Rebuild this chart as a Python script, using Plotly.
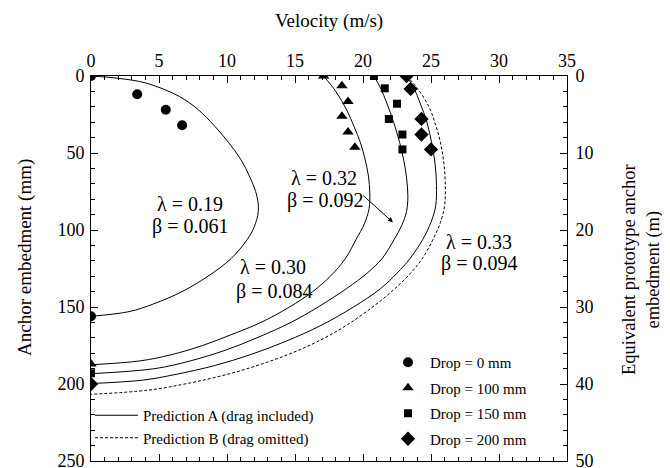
import plotly.graph_objects as go

# ---- data ----
drop0_v = [0, 3.4, 5.5, 6.7, 0]
drop0_z = [0, 11.8, 21.9, 32.0, 156]
drop100_v = [17.1, 18.45, 18.9, 18.45, 18.9, 19.4, 0]
drop100_z = [0, 6.4, 16.5, 26.2, 36.3, 46.2, 187]
drop150_v = [20.8, 21.6, 22.5, 21.9, 22.9, 22.9, 0]
drop150_z = [0, 8.0, 18.0, 27.9, 38.0, 47.7, 193]
drop200_v = [23.2, 23.5, 24.3, 24.3, 25.0, 0]
drop200_z = [0, 8.4, 27.9, 38.0, 47.7, 200]

# prediction curves
c1_z = [0, 1.5, 4.7, 13.3, 22, 32.6, 43, 54, 66, 78, 88, 98, 106, 118.6, 130, 140, 148, 153, 156]
c1_v = [0, 2.0, 4.1, 6.5, 7.9, 9.1, 10.1, 11.0, 11.7, 12.2, 12.3, 12.0, 11.5, 10.3, 8.6, 6.7, 4.6, 2.8, 0]
c2_z = [0, 10, 22, 33, 43, 54, 65, 76, 86, 96, 106, 118.6, 130, 140, 150, 160, 168, 175, 181, 185, 187.5]
c2_v = [17.1, 18.0, 18.8, 19.35, 19.8, 20.15, 20.4, 20.5, 20.45, 20.1, 19.5, 18.7, 17.6, 16.3, 14.6, 12.5, 10.3, 8.2, 5.9, 3.6, 0]
c3_z = [0, 8, 17.6, 30, 43.4, 55, 66, 78, 88, 97, 106, 118.6, 128, 138, 150, 160, 170, 178, 185, 190, 193.3]
c3_v = [20.8, 21.3, 21.75, 22.25, 22.7, 23.0, 23.2, 23.3, 23.2, 22.85, 22.3, 21.4, 20.3, 18.8, 16.7, 14.7, 12.2, 9.9, 7.3, 4.7, 0]
c4_z = [0, 8, 17.6, 30, 43.4, 57, 71, 84, 95, 106, 118.6, 128, 138, 150, 162, 172, 181, 188, 194, 197.5, 199.7]
c4_v = [23.2, 23.75, 24.2, 24.7, 25.05, 25.3, 25.4, 25.35, 25.0, 24.4, 23.45, 22.5, 21.3, 19.3, 16.9, 14.4, 11.7, 9.1, 6.1, 3.8, 0]
c5_z = [0, 8, 20, 32, 43.4, 57, 71, 84, 95, 106, 118, 128, 140, 152, 164, 176, 186, 194, 200, 204, 206.7]
c5_v = [23.2, 24.0, 24.85, 25.35, 25.7, 25.95, 26.05, 26.0, 25.7, 25.15, 24.4, 23.5, 22.1, 20.4, 18.4, 15.8, 12.9, 9.9, 6.9, 4.2, 0]

x_ticks = [0, 5, 10, 15, 20, 25, 30, 35]
y_ticks = [0, 50, 100, 150, 200, 250]
y2_ticks = [0, 10, 20, 30, 40, 50]

FONT = "Liberation Serif"
OFF = 8  # page body margin in the browser
W, H = 670 - OFF, 468 - OFF
L, R, T, B = 91 - OFF, 103, 76 - OFF, 7
PW, PH = W - L - R, H - T - B


def px(X):  # screenshot pixel -> paper x
    return (X - OFF - L) / PW


def py(Y):  # screenshot pixel -> paper y
    return (H - B - (Y - OFF)) / PH


fig = go.Figure()

def curve(v, z, dash, name, show):
    fig.add_trace(go.Scatter(x=v, y=z, mode="lines", name=name,
                             line=dict(color="black", width=1, dash=dash, shape="spline", smoothing=1.0),
                             showlegend=show, legend="legend", legendgroup=name))

curve(c1_v, c1_z, "solid", "Prediction A (drag included)", True)
curve(c2_v, c2_z, "solid", "Prediction A (drag included)", False)
curve(c3_v, c3_z, "solid", "Prediction A (drag included)", False)
curve(c4_v, c4_z, "solid", "Prediction A (drag included)", False)
curve(c5_v, c5_z, "3px,2px", "Prediction B (drag omitted)", True)

def pts(v, z, sym, size, name):
    fig.add_trace(go.Scatter(x=v, y=z, mode="markers", name=name,
                             marker=dict(symbol=sym, size=size, color="black"),
                             legend="legend2", legendgroup=name))

pts(drop0_v, drop0_z, "circle", 10, "Drop = 0 mm")
pts(drop100_v, drop100_z, "triangle-up", 10, "Drop = 100 mm")
pts(drop150_v, drop150_z, "square", 8, "Drop = 150 mm")
pts(drop200_v, drop200_z, "diamond", 11, "Drop = 200 mm")

fig.add_trace(go.Scatter(x=[None], y=[None], yaxis="y2", showlegend=False, hoverinfo="skip"))

ann = []
def lab(x, y, t):
    ann.append(dict(x=x, y=y, xref="x", yref="y", text=t, showarrow=False,
                    xanchor="center", yanchor="middle",
                    font=dict(family=FONT, size=20, color="black")))
lab(7.3, 83, "λ = 0.19"); lab(7.3, 98, "β = 0.061")
lab(17.1, 66, "λ = 0.32"); lab(17.2, 81, "β = 0.092")
lab(13.4, 124, "λ = 0.30"); lab(13.45, 140, "β = 0.084")
lab(28.5, 107.5, "λ = 0.33"); lab(28.5, 122, "β = 0.094")
ann.append(dict(x=22.2, y=95, ax=19.9, ay=76.7, xref="x", yref="y", axref="x", ayref="y",
                text="", showarrow=True, arrowhead=2, arrowsize=1, arrowwidth=1, arrowcolor="black"))
ann.append(dict(x=0.5, y=py(21), xref="paper", yref="paper", text="Velocity (m/s)",
                showarrow=False, xanchor="center", yanchor="middle",
                font=dict(family=FONT, size=19, color="black")))
ann.append(dict(x=px(25), y=py(258), xref="paper", yref="paper",
                text="Anchor embedment (mm)", showarrow=False, textangle=-90,
                xanchor="center", yanchor="middle", font=dict(family=FONT, size=19, color="black")))
ann.append(dict(x=px(641), y=py(270), xref="paper", yref="paper",
                text="Equivalent prototype anchor<br>embedment (m)",
                showarrow=False, textangle=-90, xanchor="center", yanchor="middle",
                font=dict(family=FONT, size=18.5, color="black")))

axis_common = dict(showgrid=False, zeroline=False, showline=True, linecolor="black", linewidth=1,
                   ticks="inside", ticklen=7, tickcolor="black", tickwidth=1,
                   tickfont=dict(family=FONT, size=18, color="black"), automargin=False,
                   ticklabeloverflow="allow")

fig.update_layout(
    width=W, height=H,
    margin=dict(l=L, r=R, t=T, b=B, autoexpand=False),
    paper_bgcolor="white", plot_bgcolor="white",
    font=dict(family=FONT, color="black"),
    xaxis=dict(range=[0, 35], side="top", tickvals=x_ticks, mirror="ticks", ticklabelstandoff=1,
               minor=dict(dtick=1, ticks="inside", ticklen=4, tickcolor="black"), **axis_common),
    yaxis=dict(range=[250, 0], tickvals=y_ticks, ticklabelstandoff=2,
               minor=dict(dtick=10, ticks="inside", ticklen=4, tickcolor="black"), **axis_common),
    yaxis2=dict(range=[50, 0], overlaying="y", side="right", tickvals=y2_ticks, ticklabelstandoff=4,
                minor=dict(dtick=2, ticks="inside", ticklen=4, tickcolor="black"), **axis_common),
    legend=dict(x=px(90), y=py(399), xanchor="left", yanchor="top", bgcolor="rgba(0,0,0,0)",
                itemwidth=43, font=dict(family=FONT, size=15, color="black"), tracegroupgap=0),
    legend2=dict(x=px(386), y=py(346), xanchor="left", yanchor="top",
                 bgcolor="rgba(0,0,0,0)", itemwidth=34,
                 font=dict(family=FONT, size=15, color="black"), tracegroupgap=3),
    annotations=ann,
)

fig.write_html("out.html")
